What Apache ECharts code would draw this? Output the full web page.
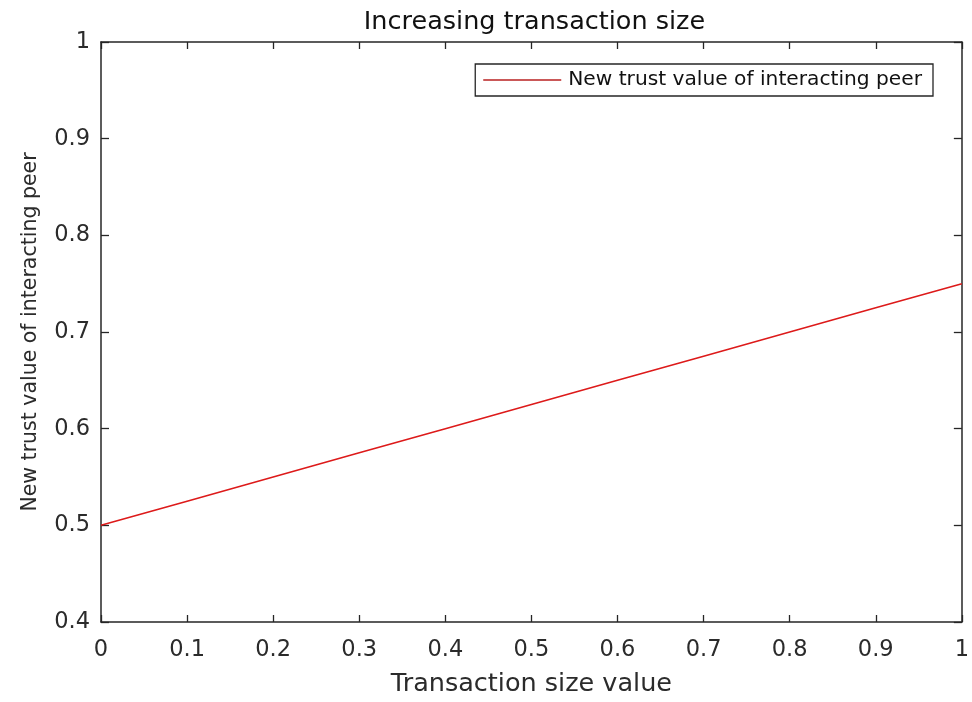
<!DOCTYPE html>
<html>
<head>
<meta charset="utf-8">
<script src="https://cdn.jsdelivr.net/npm/echarts@6/dist/echarts.min.js"></script>
<style>
  html, body { margin: 0; padding: 0; background: #fff; }
  #chart { width: 972px; height: 702px; }
</style>
</head>
<body>
<div id="chart"></div>
<script>
// Transaction size against the resulting trust value of the interacting peer
const transactionSize = [0, 0.1, 0.2, 0.3, 0.4, 0.5, 0.6, 0.7, 0.8, 0.9, 1];
const newTrustValue = [0.5, 0.525, 0.55, 0.575, 0.6, 0.625, 0.65, 0.675, 0.7, 0.725, 0.75];
const xTickLabels = ['0', '0.1', '0.2', '0.3', '0.4', '0.5', '0.6', '0.7', '0.8', '0.9', '1'];
const yTickLabels = ['0.4', '0.5', '0.6', '0.7', '0.8', '0.9', '1'];
const seriesName = 'New trust value of interacting peer';

const axisColor = '#262626';
const textColor = '#2b2b2b';
const lineColor = '#dd1a1a';
const font = '"DejaVu Sans", Verdana, sans-serif';

// plot box
const plotLeft = 101, plotTop = 42, plotWidth = 867, plotHeight = 588;

const chart = echarts.init(document.getElementById('chart'), null, { renderer: 'canvas' });

const fmtX = v => {
  const i = Math.round(v * 10);
  return xTickLabels[i] !== undefined ? xTickLabels[i] : '';
};
const fmtY = v => {
  const i = Math.round((v - 0.4) * 10);
  return yTickLabels[i] !== undefined ? yTickLabels[i] : '';
};

const baseX = {
  type: 'value', min: 0, max: 1, interval: 0.1,
  axisLine: { show: true, onZero: false, lineStyle: { color: axisColor, width: 1.5 } },
  axisTick: { show: true, inside: true, length: 7, lineStyle: { color: axisColor, width: 1.3 } },
  splitLine: { show: false }
};
const baseY = {
  type: 'value', min: 0.4, max: 1, interval: 0.1,
  axisLine: { show: true, onZero: false, lineStyle: { color: axisColor, width: 1.5 } },
  axisTick: { show: true, inside: true, length: 8, lineStyle: { color: axisColor, width: 1.3 } },
  splitLine: { show: false }
};

chart.setOption({
  animation: false,
  backgroundColor: '#ffffff',
  title: {
    text: 'Increasing transaction size',
    // centred over the plot box, not the page
    left: plotLeft + plotWidth / 2 - 5,
    textAlign: 'center',
    top: 4,
    textStyle: { fontFamily: font, fontSize: 25.5, fontWeight: 'normal', color: '#111' }
  },
  grid: { left: plotLeft, top: plotTop, width: plotWidth, height: plotHeight, containLabel: false },
  legend: {
    data: [{ name: seriesName, icon: 'rect' }],
    right: 39,
    top: 64,
    orient: 'vertical',
    borderColor: axisColor,
    borderWidth: 1.3,
    borderRadius: 0,
    backgroundColor: '#fff',
    padding: [6, 11, 6, 8],
    itemWidth: 78,
    itemHeight: 1.6,
    itemGap: 0,
    itemStyle: { color: '#b82020' },
    textStyle: { fontFamily: font, fontSize: 20.2, color: '#111', padding: [0, 0, 0, 2] }
  },
  xAxis: [
    Object.assign({}, baseX, {
      position: 'bottom',
      name: 'Transaction size value',
      nameLocation: 'middle',
      nameGap: 49,
      nameTextStyle: { fontFamily: font, fontSize: 25.5, color: textColor },
      axisLabel: { show: true, margin: 17, fontFamily: font, fontSize: 22.5, color: textColor, formatter: fmtX }
    }),
    Object.assign({}, baseX, { position: 'top', axisLabel: { show: false } })
  ],
  yAxis: [
    Object.assign({}, baseY, {
      position: 'left',
      name: 'New trust value of interacting peer',
      nameLocation: 'middle',
      nameGap: 60,
      nameTextStyle: { fontFamily: font, fontSize: 20.5, color: textColor },
      axisLabel: { show: true, margin: 11, fontFamily: font, fontSize: 22.5, color: textColor, formatter: fmtY }
    }),
    Object.assign({}, baseY, { position: 'right', axisLabel: { show: false } })
  ],
  series: [{
    name: seriesName,
    type: 'line',
    xAxisIndex: 0,
    yAxisIndex: 0,
    data: transactionSize.map((x, i) => [x, newTrustValue[i]]),
    symbol: 'none',
    lineStyle: { color: lineColor, width: 1.6 },
    itemStyle: { color: lineColor }
  }]
});
</script>
</body>
</html>
